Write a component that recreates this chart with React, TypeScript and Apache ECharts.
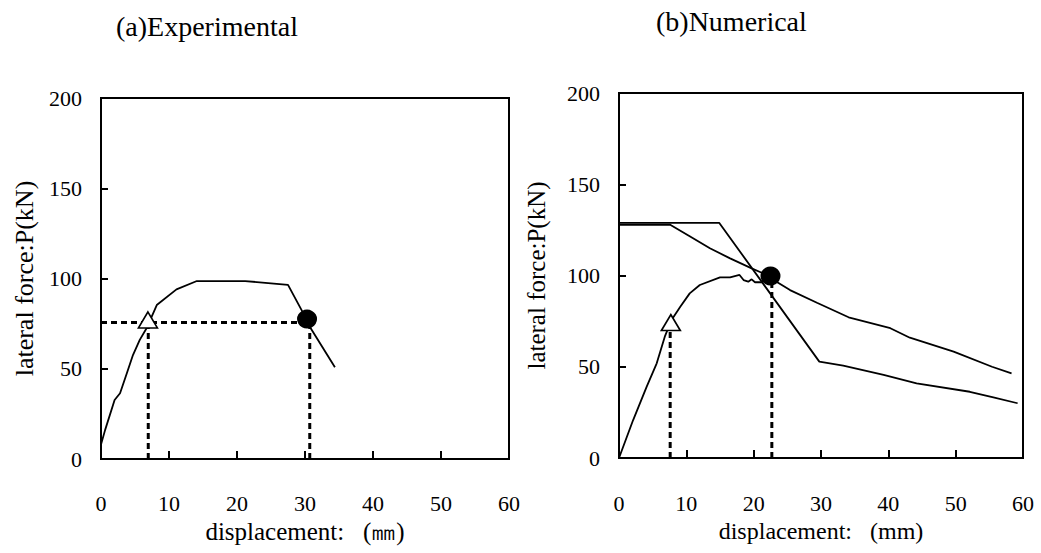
import React, { useEffect, useRef } from "react";
import * as echarts from "echarts";

// ---- data ----
const expCurve: [number, number][] = [
  [0, 8], [0.6, 16], [2.0, 32.7], [2.8, 36.4], [3.8, 47.5], [4.7, 57.6], [5.7, 66],
  [6.7, 72.4], [8.2, 85.3], [11.1, 94], [14.1, 98.6], [21.2, 98.6], [27.5, 96.5],
  [29.5, 82.5], [30.7, 73.3], [34.4, 50.8],
];
const expYieldPoint: [number, number][] = [[6.9, 77]];
const expUltPoint: [number, number][] = [[30.3, 77.5]];
const expGuideH: [number, number][] = [[0, 75.6], [30.3, 75.6]];
const expGuideV1: [number, number][] = [[6.95, 0], [6.95, 75.6]];
const expGuideV2: [number, number][] = [[30.7, 0], [30.7, 76]];

const numCurve: [number, number][] = [
  [0, 0], [2.1, 20.8], [4.1, 39], [5.6, 51.9], [6.8, 66.5], [7.8, 75.6], [9.1, 82.9],
  [10.5, 90.2], [12.0, 94.8], [15.0, 99.0], [16.5, 99.0], [17.9, 100.3], [18.5, 97.5],
  [19.2, 96.6], [19.7, 97.9], [20.2, 96.3], [21.2, 96.3], [21.8, 99.3],
];
const numLineA: [number, number][] = [
  [0, 128.8], [14.9, 128.8], [29.75, 52.8], [33.3, 50.6], [39.3, 45.5], [44.2, 40.9],
  [52.1, 36.3], [55.6, 33.2], [59.2, 30],
];
const numLineB: [number, number][] = [
  [0, 127.8], [7.6, 127.8], [10.5, 121.5], [13.5, 114.9], [16.5, 109.4], [19.7, 103.9],
  [21.2, 101.5], [25.4, 92], [29.4, 85.1], [34.1, 77.1], [40.3, 71.1], [43.2, 65.9],
  [49.7, 58.3], [55.4, 50], [58.3, 46.4],
];
const numYieldPoint: [number, number][] = [[7.7, 74.2]];
const numUltPoint: [number, number][] = [[22.5, 99.7]];
const numGuideV1: [number, number][] = [[7.6, 0], [7.6, 72]];
const numGuideV2: [number, number][] = [[22.7, 0], [22.7, 98]];

const xTicks = { min: 0, max: 60, interval: 10 };
const yTicks = { min: 0, max: 200, interval: 50 };

const FONT = "'Liberation Serif', 'Times New Roman', serif";

export default function App() {
  const ref = useRef<HTMLDivElement>(null);
  useEffect(() => {
    if (!ref.current) return;
    const chart = echarts.init(ref.current, undefined, { renderer: "svg" });

    const xAxisBase = (gridIndex: number, nameSize: number, name: string, gap: number, margin: number) => ({
      type: "value" as const,
      gridIndex,
      min: xTicks.min,
      max: xTicks.max,
      interval: xTicks.interval,
      name,
      nameLocation: "middle" as const,
      nameGap: gap,
      nameTextStyle: { fontFamily: FONT, fontSize: nameSize, color: "#000" },
      axisLine: { show: true, lineStyle: { color: "#000", width: 2 } },
      axisTick: { show: true, inside: true, length: 8, lineStyle: { color: "#000", width: 2 } },
      axisLabel: { fontFamily: FONT, fontSize: 22, color: "#000", margin },
      splitLine: { show: false },
    });
    const yAxisBase = (gridIndex: number, nameSize: number, gap: number) => ({
      type: "value" as const,
      gridIndex,
      min: yTicks.min,
      max: yTicks.max,
      interval: yTicks.interval,
      name: "lateral force:P(kN)",
      nameLocation: "middle" as const,
      nameGap: gap,
      nameTextStyle: { fontFamily: FONT, fontSize: nameSize, color: "#000" },
      axisLine: { show: true, lineStyle: { color: "#000", width: 2 } },
      axisTick: { show: true, inside: true, length: 7, lineStyle: { color: "#000", width: 2 } },
      axisLabel: { fontFamily: FONT, fontSize: 22, color: "#000", margin: 19 },
      splitLine: { show: false },
    });

    const curve = (data: [number, number][], idx: number) => ({
      type: "line" as const,
      xAxisIndex: idx,
      yAxisIndex: idx,
      data,
      symbol: "none",
      lineStyle: { color: "#000", width: 1.8 },
      z: 3,
    });
    const guide = (data: [number, number][], idx: number) => ({
      type: "line" as const,
      xAxisIndex: idx,
      yAxisIndex: idx,
      data,
      symbol: "none",
      lineStyle: { color: "#000", width: 3, type: [6, 4] as any },
      z: 2,
    });
    const tri = (data: [number, number][], idx: number) => ({
      type: "scatter" as const,
      xAxisIndex: idx,
      yAxisIndex: idx,
      data,
      symbol: "triangle",
      symbolSize: [19, 16],
      itemStyle: { color: "#fff", borderColor: "#000", borderWidth: 1.6, opacity: 1 },
      z: 5,
    });
    const dot = (data: [number, number][], idx: number) => ({
      type: "scatter" as const,
      xAxisIndex: idx,
      yAxisIndex: idx,
      data,
      symbol: "circle",
      symbolSize: [20, 19],
      itemStyle: { color: "#000", opacity: 1 },
      z: 5,
    });

    chart.setOption({
      animation: false,
      backgroundColor: "#fff",
      title: [
        {
          text: "(a)Experimental",
          left: 111,
          top: 7,
          textStyle: { fontFamily: FONT, fontSize: 28, fontWeight: "normal", color: "#000" },
        },
        {
          text: "(b)Numerical",
          left: 651,
          top: 2,
          textStyle: { fontFamily: FONT, fontSize: 28, fontWeight: "normal", color: "#000" },
        },
      ],
      grid: [
        { left: 101, top: 98, width: 408, height: 361, show: true, borderColor: "#000", borderWidth: 2, backgroundColor: "transparent" },
        { left: 619, top: 93, width: 404, height: 365, show: true, borderColor: "#000", borderWidth: 2, backgroundColor: "transparent" },
      ],
      xAxis: [
        xAxisBase(0, 25, "displacement:   (㎜)", 58, 33),
        xAxisBase(1, 24, "displacement:   (mm)", 58, 34),
      ],
      yAxis: [yAxisBase(0, 26, 64), yAxisBase(1, 25, 70)],
      series: [
        guide(expGuideH, 0),
        guide(expGuideV1, 0),
        guide(expGuideV2, 0),
        curve(expCurve, 0),
        tri(expYieldPoint, 0),
        dot(expUltPoint, 0),
        guide(numGuideV1, 1),
        guide(numGuideV2, 1),
        curve(numCurve, 1),
        curve(numLineA, 1),
        curve(numLineB, 1),
        tri(numYieldPoint, 1),
        dot(numUltPoint, 1),
      ],
    });
    return () => chart.dispose();
  }, []);
  return (
    <div
      ref={ref}
      style={{ position: "absolute", left: 0, top: 0, width: 1041, height: 553, background: "#fff" }}
    />
  );
}
